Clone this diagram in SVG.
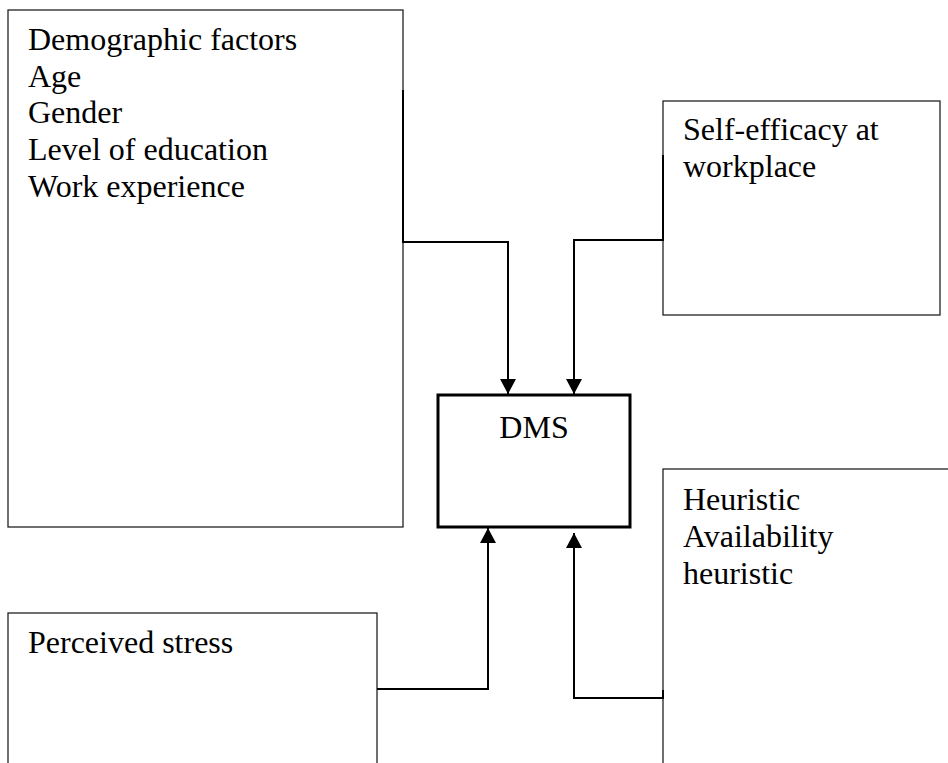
<svg xmlns="http://www.w3.org/2000/svg" width="948" height="763" viewBox="0 0 948 763">
<defs>
<style>
.box{fill:#fff;stroke:#222;stroke-width:1.3}
.main{fill:#fff;stroke:#000;stroke-width:3}
.lbl{font-family:"Liberation Serif","Times New Roman",serif;font-size:32px;fill:#000}
.conn{fill:none;stroke:#000;stroke-width:2}
</style>
<marker id="arr" markerUnits="userSpaceOnUse" markerWidth="16" markerHeight="16" refX="15" refY="8" orient="auto" viewBox="0 0 16 16">
<path d="M0,0 L15,8 L0,16 z" fill="#000"/>
</marker>
</defs>
<rect width="948" height="763" fill="#fff"/>
<g id="demographic">
<rect class="box" x="8" y="10" width="395" height="517"/>
<text class="lbl" x="28" y="50">Demographic factors</text>
<text class="lbl" x="28" y="87">Age</text>
<text class="lbl" x="28" y="123">Gender</text>
<text class="lbl" x="28" y="160">Level of education</text>
<text class="lbl" x="28" y="197">Work experience</text>
</g>
<g id="selfefficacy">
<rect class="box" x="663" y="101" width="277" height="214"/>
<text class="lbl" x="683" y="140">Self-efficacy at</text>
<text class="lbl" x="683" y="177">workplace</text>
</g>
<g id="dms">
<rect class="main" x="438" y="395" width="192" height="132"/>
<text class="lbl" x="534" y="438" text-anchor="middle">DMS</text>
</g>
<g id="stress">
<rect class="box" x="8" y="613" width="369" height="200"/>
<text class="lbl" x="28" y="653">Perceived stress</text>
</g>
<g id="heuristic">
<rect class="box" x="663" y="469" width="320" height="340"/>
<text class="lbl" x="683" y="510">Heuristic</text>
<text class="lbl" x="683" y="547">Availability</text>
<text class="lbl" x="683" y="584">heuristic</text>
</g>
<g id="connectors">
<path class="conn" d="M403,90 V242 H508 V394" marker-end="url(#arr)"/>
<path class="conn" d="M663,155 V240 H574 V394" marker-end="url(#arr)"/>
<path class="conn" d="M377,689 H488 V528" marker-end="url(#arr)"/>
<path class="conn" d="M663,690 V698 H574 V533" marker-end="url(#arr)"/>
</g>
</svg>
